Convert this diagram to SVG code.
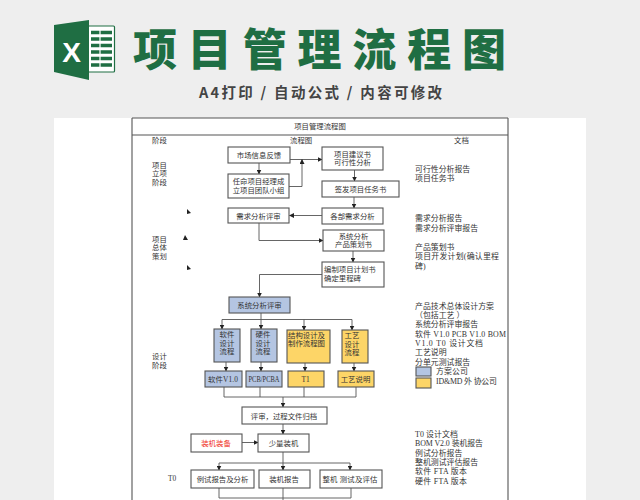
<svg xmlns="http://www.w3.org/2000/svg" width="640" height="500" viewBox="0 0 640 500">
<style>
text{font-family:"Liberation Serif","Noto Sans CJK SC",serif;font-size:7.4px;fill:#333}
#docs text{font-size:7.9px}
.c{text-anchor:middle}
.n rect{fill:#fff;stroke:#555;stroke-width:1.1}
.b rect{fill:#b4c5e2}
.y rect{fill:#fdd567}
.t{font-family:"Noto Sans CJK SC",sans-serif;font-weight:900;font-size:44px;fill:#1f6e43}
.s{font-family:"Noto Sans CJK SC",sans-serif;font-weight:700;font-size:14.500px;fill:#444}
#conn path{fill:none;stroke:#555;stroke-width:.9}
#conn polygon{fill:#222}
.tb{stroke:#555;stroke-width:1.1;fill:none}
</style>
<defs><marker id="a" markerWidth="5" markerHeight="5" refX="4.5" refY="2.5" orient="auto" markerUnits="userSpaceOnUse"><path d="M0 0L5 2.5L0 5Z" fill="#222"/></marker></defs>
<rect width="640" height="500" fill="#eeeeee"/>
<rect x="54" y="118" width="532" height="382" fill="#fff"/>
<g id="logo">
<rect x="88" y="26" width="26.500" height="46" rx="1" fill="#fff" stroke="#1f6e43" stroke-width="1.200"/>
<path d="M91 32.500h21M91 39h21M91 45.500h21M91 52h21M91 58.500h21M91 65h21" stroke="#1f6e43" stroke-width="3.400" fill="none"/>
<path d="M100 29v40" stroke="#fff" stroke-width="1.200"/>
<polygon points="54,25 89,20 89,80 54,72" fill="#1f6e43"/>
<text x="71.500" y="62" class="c" style="font-family:'Liberation Sans',sans-serif;font-weight:700;font-size:28px;fill:#fff">X</text>
</g>
<g id="title">
<text class="t" x="133" y="66" textLength="373" lengthAdjust="spacing">项目管理流程图</text>
<text class="s" x="199" y="98" textLength="243" lengthAdjust="spacing">A4打印 / 自动公式 / 内容可修改</text>
</g>
<g id="table">
<path class="tb" d="M132 118V500M508 118V500M132 135H508M132 118H508"/>
<text class="c" x="320" y="129">项目管理流程图</text>
<text x="152" y="142.500">阶段</text><text x="290" y="142.500">流程图</text><text x="454" y="142.500">文档</text>
<text x="152" y="167.500">项目</text><text x="152" y="176">立项</text><text x="152" y="185">阶段</text>
<text x="152" y="241.500">项目</text><text x="152" y="250">总体</text><text x="152" y="259">策划</text>
<text x="152" y="358.500">设计</text><text x="152" y="367.500">阶段</text>
<text x="168" y="481">T0</text>
</g>
<g id="docs">
<text x="415" y="171.500">可行性分析报告</text><text x="415" y="181">项目任务书</text>
<text x="415" y="220.500">需求分析报告</text><text x="415" y="230.500">需求分析评审报告</text>
<text x="415" y="249.500">产品策划书</text><text x="415" y="259" textLength="84">项目开发计划(确认里程</text><text x="415" y="268.500">碑)</text>
<text x="415" y="308.500">产品技术总体设计方案</text><text x="415" y="317.500">（包括工艺 ）</text><text x="415" y="326.500">系统分析评审报告</text><text x="415" y="336.500" textLength="91">软件 V1.0 PCB V1.0 BOM</text><text x="415" y="345.500" textLength="68">V1.0 T0 设计文档</text><text x="415" y="354.500">工艺说明</text><text x="415" y="364.500">分单元测试报告</text>
<text x="436" y="373.500" textLength="32">方案公司</text><text x="436" y="383.500" textLength="61">ID&amp;MD 外 协公司</text>
<text x="415" y="436.500" textLength="43">T0 设计文档</text><text x="415" y="445.500" textLength="68">BOM V2.0 装机报告</text><text x="415" y="455.500">例试分析报告</text><text x="415" y="464.500">整机测试评估报告</text><text x="415" y="473.500" textLength="52">软件 FTA 版本</text><text x="415" y="483.500" textLength="52">硬件 FTA 版本</text>
</g>
<g id="legend-blue" class="n b"><rect x="416" y="367" width="15" height="9"/></g>
<g id="legend-yellow" class="n y"><rect x="416" y="378" width="15" height="10"/></g>
<g id="conn">
<path marker-end="url(#a)" d="M259 163V174"/>
<path marker-end="url(#a)" d="M290 159.500H322"/>
<path marker-end="url(#a)" d="M289 186.500H302V159.500"/>
<path marker-end="url(#a)" d="M354.500 170V181"/>
<path marker-end="url(#a)" d="M354 197V208"/>
<path marker-end="url(#a)" d="M322 215.500H289.500"/>
<path marker-end="url(#a)" d="M259 223V240.500H323"/>
<path marker-end="url(#a)" d="M353 251V262"/>
<path marker-end="url(#a)" d="M322 274.500H259.500V297"/>
<path d="M261 313V319.500M222 319.500H352"/>
<path marker-end="url(#a)" d="M222 319.500V329"/>
<path marker-end="url(#a)" d="M261 319.500V329"/>
<path marker-end="url(#a)" d="M304 319.500V330"/>
<path marker-end="url(#a)" d="M352 319.500V330"/>
<path marker-end="url(#a)" d="M226 362V371"/>
<path marker-end="url(#a)" d="M261 362V371"/>
<path marker-end="url(#a)" d="M305 363V371"/>
<path marker-end="url(#a)" d="M354 363V371"/>
<path d="M224 387V397H356V387M260 387V397M304 387V397"/>
<path marker-end="url(#a)" d="M283 397V407"/>
<path marker-end="url(#a)" d="M283 424V434"/>
<path marker-end="url(#a)" d="M242 442.500H258"/>
<path marker-end="url(#a)" d="M283 452V470"/>
<path d="M219 463H350"/>
<path marker-end="url(#a)" d="M219 463V470"/>
<path marker-end="url(#a)" d="M350 463V470"/>
<path d="M219 488V498H351V488M283 488V500"/>
<polygon points="187,209 191,213 187,214"/>
<polygon points="185,235 188,240 183,240"/>
<polygon points="187,265 191,269 187,270"/>
</g>
<g id="n1" class="n"><rect x="228" y="147" width="62" height="16"/><text class="c" x="259" y="158">市场信息反馈</text></g>
<g id="n2" class="n"><rect x="322" y="147" width="61" height="23"/><text class="c" x="352.500" y="156.500">项目建议书</text><text class="c" x="352.500" y="165">可行性分析</text></g>
<g id="n3" class="n"><rect x="228" y="174" width="61" height="24"/><text class="c" x="258.500" y="184">任命项目经理成</text><text class="c" x="258.500" y="192.500">立项目团队小组</text></g>
<g id="n4" class="n"><rect x="322" y="181" width="77" height="16"/><text class="c" x="360.500" y="192">签发项目任务书</text></g>
<g id="n5" class="n"><rect x="228" y="208" width="61" height="15"/><text class="c" x="258.500" y="218.500">需求分析评审</text></g>
<g id="n6" class="n"><rect x="322" y="208" width="61" height="16"/><text class="c" x="352.500" y="219">各部需求分析</text></g>
<g id="n7" class="n"><rect x="323" y="230" width="61" height="21"/><text class="c" x="353.500" y="238.500">系统分析</text><text class="c" x="353.500" y="247">产品策划书</text></g>
<g id="n8" class="n"><rect x="322" y="262" width="62" height="25"/><text x="324" y="272">编制项目计划书</text><text x="324" y="280.500">确定里程碑</text></g>
<g id="n9" class="n b"><rect x="229" y="297" width="61" height="16"/><text class="c" x="259.500" y="308">系统分析评审</text></g>
<g id="n10" class="n b"><rect x="214" y="329" width="26" height="33"/><text class="c" x="227" y="336.500">软件</text><text class="c" x="227" y="345.500">设计</text><text class="c" x="227" y="353.500">流程</text></g>
<g id="n11" class="n b"><rect x="251" y="329" width="26" height="33"/><text class="c" x="263" y="336.500">硬件</text><text class="c" x="263" y="345.500">设计</text><text class="c" x="263" y="353.500">流程</text></g>
<g id="n12" class="n y"><rect x="287" y="330" width="43" height="33"/><text class="c" x="306.500" y="337.500">结构设计及</text><text class="c" x="306.500" y="345.500">制作流程图</text></g>
<g id="n13" class="n y"><rect x="342" y="330" width="26" height="33"/><text class="c" x="352" y="337.500">工艺</text><text class="c" x="352" y="346.500">设计</text><text class="c" x="352" y="354.500">流程</text></g>
<g id="n14" class="n b"><rect x="205" y="371" width="37" height="16"/><text x="208" y="381.500" textLength="30">软件V1.0</text></g>
<g id="n15" class="n b"><rect x="246" y="371" width="36" height="16"/><text x="248.500" y="381.500" textLength="31" lengthAdjust="spacingAndGlyphs">PCB/PCBA</text></g>
<g id="n16" class="n y"><rect x="288" y="371" width="36" height="16"/><text class="c" x="305.500" y="381.500">T1</text></g>
<g id="n17" class="n y"><rect x="338" y="371" width="36" height="16"/><text class="c" x="355.500" y="381.500">工艺说明</text></g>
<g id="n18" class="n"><rect x="242" y="407" width="85" height="17"/><text class="c" x="284" y="418.500">评审，过程文件归档</text></g>
<g id="n19" class="n"><rect x="191" y="434" width="51" height="18"/><text class="c" x="216" y="445.500" style="fill:#f0301c">装机装备</text></g>
<g id="n20" class="n"><rect x="258" y="434" width="51" height="18"/><text class="c" x="283.500" y="446">少量装机</text></g>
<g id="n21" class="n"><rect x="191" y="470" width="63" height="18"/><text class="c" x="222.500" y="481.500">例试报告及分析</text></g>
<g id="n22" class="n"><rect x="259" y="470" width="51" height="18"/><text class="c" x="284" y="482">装机报告</text></g>
<g id="n23" class="n"><rect x="320" y="470" width="62" height="18"/><text x="322.500" y="482" textLength="55">整机 测试及评估</text></g>
</svg>
